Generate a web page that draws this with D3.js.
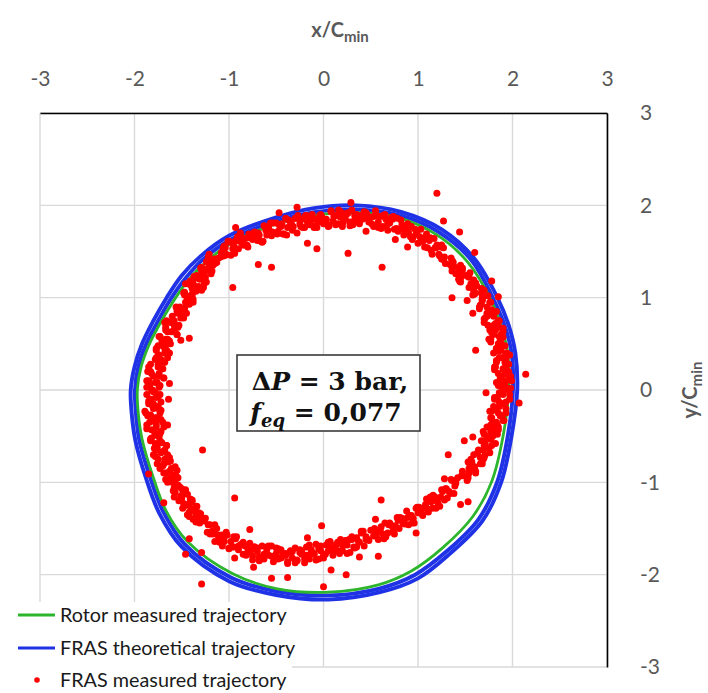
<!DOCTYPE html>
<html>
<head>
<meta charset="utf-8">
<script src="https://cdn.jsdelivr.net/npm/d3@7"></script>
<style>
  body { margin: 0; background: #fff; }
  svg { display: block; }
</style>
</head>
<body>
<svg id="chart" width="708" height="693"></svg>
<script>
// Axis ticks (both axes, in units of C_min)
const axisTicks = [-3, -2, -1, 0, 1, 2, 3];

// Series names for the legend
const seriesNames = ["Rotor measured trajectory", "FRAS theoretical trajectory", "FRAS measured trajectory"];

// Rotor measured orbit [x/Cmin, y/Cmin]
const rotorMeasured = [
  [0.35,1.92],[-0.1,1.89],[-0.5,1.80],[-0.96,1.60],[-1.24,1.39],[-1.43,1.19],[-1.59,0.96],[-1.73,0.72],
  [-1.85,0.48],[-1.93,0.25],[-1.97,0.0],[-1.96,-0.25],[-1.92,-0.53],[-1.81,-0.92],[-1.67,-1.3],[-1.44,-1.64],
  [-0.96,-1.99],[-0.5,-2.15],[0.05,-2.19],[0.58,-2.11],[0.93,-1.96],[1.26,-1.71],[1.58,-1.37],[1.78,-0.99],
  [1.9,-0.5],[1.96,0.0],[1.95,0.4],[1.88,0.69],[1.77,0.98],[1.53,1.38],[1.2,1.68],[0.78,1.87]
];

// FRAS theoretical orbit, two successive revolutions
const frasTheoreticalRev1 = [
  [0.35,2.0],[-0.1,1.97],[-0.5,1.87],[-1.0,1.67],[-1.3,1.45],[-1.5,1.24],[-1.66,1.0],[-1.8,0.75],
  [-1.92,0.5],[-2.0,0.25],[-2.04,0.0],[-2.03,-0.25],[-1.99,-0.55],[-1.88,-0.95],[-1.74,-1.33],[-1.5,-1.7],
  [-1.0,-2.07],[-0.5,-2.22],[0.05,-2.27],[0.6,-2.19],[1.0,-2.04],[1.33,-1.78],[1.68,-1.42],[1.88,-1.0],
  [1.99,-0.5],[2.05,0.0],[2.03,0.4],[1.96,0.7],[1.84,1.0],[1.6,1.42],[1.25,1.74],[0.82,1.93]
];
const frasTheoreticalRev2 = [
  [0.35,1.955],[-0.1,1.925],[-0.5,1.83],[-0.98,1.63],[-1.27,1.42],[-1.46,1.21],[-1.62,0.98],[-1.76,0.73],
  [-1.88,0.49],[-1.96,0.25],[-1.995,0.0],[-1.985,-0.25],[-1.95,-0.54],[-1.84,-0.93],[-1.7,-1.31],[-1.47,-1.67],
  [-0.98,-2.03],[-0.5,-2.18],[0.05,-2.225],[0.59,-2.15],[0.97,-2.0],[1.3,-1.75],[1.64,-1.4],[1.84,-0.99],
  [1.95,-0.5],[2.005,0.0],[1.99,0.4],[1.92,0.69],[1.8,0.98],[1.57,1.4],[1.22,1.71],[0.81,1.89]
];

// FRAS measured positions [x/Cmin, y/Cmin]
const frasMeasured = [
  [-0.50,1.81],[-0.48,1.72],[-0.45,1.77],[-0.43,1.69],[-0.40,1.86],[-0.38,1.76],[-0.35,1.82],[-0.33,1.73],[-0.30,1.86],[-0.28,1.70],
  [-0.25,1.80],[-0.23,1.85],[-0.20,1.76],[-0.18,1.89],[-0.15,1.79],[-0.13,1.85],[-0.10,1.76],[-0.08,1.85],[-0.05,1.82],[-0.03,1.90],
  [0.00,1.80],[0.03,1.85],[0.05,1.77],[0.08,1.94],[0.10,1.83],[0.13,1.89],[0.15,1.80],[0.18,1.93],[0.20,1.77],[0.23,1.86],
  [0.25,1.91],[0.28,1.82],[0.30,1.95],[0.33,1.84],[0.35,1.90],[0.38,1.80],[0.40,1.89],[0.43,1.86],[0.45,1.92],[0.48,1.82],
  [0.50,1.87],[0.53,1.77],[0.55,1.94],[0.58,1.82],[0.60,1.88],[0.63,1.77],[0.65,1.90],[0.68,1.73],[0.70,1.81],
  [0.73,1.85],[0.75,1.74],[0.78,1.86],[0.80,1.74],[0.83,1.79],[0.85,1.68],[0.88,1.75],[0.90,1.71],[0.93,1.77],[0.95,1.66],
  [0.98,1.69],[1.00,1.59],[1.03,1.74],[1.05,1.61],[1.08,1.65],[1.10,1.54],[1.13,1.65],[1.15,1.47],[1.18,1.54],[1.20,1.57],
  [1.23,1.45],[1.25,1.57],[1.28,1.44],
  [1.35,1.43],[1.27,1.41],[1.37,1.39],[1.36,1.37],[1.45,1.35],[1.36,1.33],[1.43,1.31],[1.36,1.29],[1.55,1.27],[1.45,1.25],
  [1.53,1.23],[1.45,1.21],[1.59,1.19],[1.45,1.17],[1.56,1.15],[1.62,1.13],[1.54,1.11],[1.68,1.09],[1.59,1.07],[1.67,1.05],
  [1.58,1.03],[1.69,1.01],
  [1.68,0.98],[1.76,0.95],[1.67,0.93],[1.73,0.90],[1.65,0.88],[1.83,0.85],[1.73,0.83],[1.80,0.80],[1.71,0.78],[1.85,0.75],
  [1.70,0.73],[1.80,0.70],[1.86,0.68],[1.76,0.65],[1.90,0.63],[1.80,0.60],[1.86,0.58],[1.77,0.55],[1.87,0.53],[1.85,0.50],
  [1.92,0.48],[1.83,0.45],[1.88,0.43],[1.80,0.40],[1.97,0.38],[1.86,0.35],[1.93,0.33],[1.83,0.30],[1.96,0.28],[1.81,0.25],
  [1.90,0.23],[1.95,0.20],[1.85,0.18],[1.98,0.15],[1.87,0.13],[1.93,0.10],[1.83,0.08],[1.92,0.05],[1.89,0.03],[1.96,0.00],
  [1.86,-0.03],[1.90,-0.05],[1.81,-0.08],[1.97,-0.10],[1.86,-0.13],[1.91,-0.15],[1.80,-0.18],[1.93,-0.20],[1.76,-0.23],[1.85,-0.25],
  [1.89,-0.28],[1.78,-0.30],[1.90,-0.33],[1.79,-0.35],[1.84,-0.38],[1.73,-0.40],[1.81,-0.43],[1.77,-0.45],[1.84,-0.48],[1.73,-0.50],
  [1.77,-0.53],[1.67,-0.55],[1.82,-0.58],[1.70,-0.60],[1.75,-0.63],[1.64,-0.65],[1.76,-0.68],[1.59,-0.70],[1.66,-0.73],[1.69,-0.75],
  [1.57,-0.78],[1.68,-0.80],[1.55,-0.83],[1.59,-0.85],[1.47,-0.88],[1.54,-0.90],[1.48,-0.93],[1.53,-0.95],[1.40,-0.98],
  [1.40,-1.01],[1.38,-1.12],[1.35,-0.97],[1.33,-1.10],[1.30,-1.07],[1.28,-1.19],[1.25,-1.08],[1.23,-1.26],[1.20,-1.20],[1.18,-1.16],
  [1.15,-1.28],[1.13,-1.16],[1.10,-1.29],[1.08,-1.24],[1.05,-1.36],[1.03,-1.28],[1.00,-1.33],[0.98,-1.28],[0.95,-1.39],[0.93,-1.36],
  [0.90,-1.46],[0.88,-1.31],[0.85,-1.43],[0.83,-1.39],[0.80,-1.50],[0.78,-1.38],[0.75,-1.56],[0.73,-1.48],[0.70,-1.44],[0.68,-1.55],
  [0.65,-1.44],[0.63,-1.56],[0.60,-1.51],[0.58,-1.62],[0.55,-1.54],[0.53,-1.58],[0.50,-1.52],
  [0.48,-1.63],[0.45,-1.59],[0.43,-1.69],[0.40,-1.53],[0.38,-1.65],[0.35,-1.60],[0.33,-1.71],[0.30,-1.59],[0.28,-1.76],[0.25,-1.68],
  [0.23,-1.63],[0.20,-1.74],[0.18,-1.62],[0.15,-1.74],[0.13,-1.68],[0.10,-1.79],[0.08,-1.71],[0.05,-1.74],[0.03,-1.68],[0.00,-1.79],
  [-0.03,-1.74],[-0.05,-1.83],[-0.08,-1.67],[-0.10,-1.78],[-0.13,-1.73],[-0.15,-1.83],[-0.18,-1.70],[-0.20,-1.87],[-0.23,-1.78],[-0.25,-1.73],
  [-0.28,-1.84],[-0.30,-1.71],[-0.33,-1.82],[-0.35,-1.76],[-0.38,-1.86],[-0.40,-1.77],[-0.43,-1.80],[-0.45,-1.73],[-0.48,-1.83],[-0.50,-1.77],
  [-0.53,-1.86],[-0.55,-1.69],[-0.58,-1.79],[-0.60,-1.73],[-0.63,-1.83],[-0.65,-1.69],[-0.68,-1.85],[-0.70,-1.75],[-0.73,-1.70],
  [-0.75,-1.80],[-0.78,-1.66],[-0.80,-1.76],[-0.83,-1.69],[-0.85,-1.78],[-0.88,-1.68],[-0.90,-1.69],[-0.93,-1.61],[-0.95,-1.70],[-0.98,-1.64],
  [-1.00,-1.72],[-1.03,-1.54],[-1.05,-1.64],[-1.08,-1.57],[-1.10,-1.65],[-1.13,-1.50],[-1.15,-1.64],[-1.18,-1.53],[-1.20,-1.46],[-1.23,-1.54],
  [-1.25,-1.39],
  [-1.31,-1.44],[-1.26,-1.42],[-1.38,-1.40],[-1.31,-1.38],[-1.35,-1.36],[-1.30,-1.34],[-1.42,-1.32],[-1.38,-1.30],[-1.49,-1.28],[-1.34,-1.26],
  [-1.46,-1.24],[-1.41,-1.22],[-1.53,-1.20],[-1.41,-1.18],[-1.58,-1.16],[-1.50,-1.14],[-1.47,-1.12],[-1.58,-1.10],[-1.46,-1.08],[-1.58,-1.06],
  [-1.54,-1.03],[-1.65,-1.00],[-1.57,-0.98],[-1.62,-0.95],[-1.56,-0.93],[-1.67,-0.90],[-1.63,-0.88],[-1.73,-0.85],[-1.57,-0.83],[-1.69,-0.80],
  [-1.64,-0.78],[-1.75,-0.75],[-1.63,-0.73],[-1.80,-0.70],[-1.72,-0.68],[-1.68,-0.65],[-1.79,-0.63],[-1.66,-0.60],[-1.78,-0.58],[-1.73,-0.55],
  [-1.83,-0.53],[-1.75,-0.50],[-1.78,-0.48],[-1.72,-0.45],[-1.82,-0.43],[-1.77,-0.40],[-1.87,-0.38],[-1.70,-0.35],[-1.81,-0.33],[-1.76,-0.30],
  [-1.86,-0.28],[-1.73,-0.25],[-1.89,-0.23],[-1.80,-0.20],[-1.75,-0.18],[-1.85,-0.15],[-1.72,-0.13],[-1.83,-0.10],[-1.77,-0.08],[-1.87,-0.05],
  [-1.78,-0.03],[-1.81,0.00],[-1.74,0.03],[-1.84,0.05],[-1.78,0.08],[-1.87,0.10],[-1.69,0.13],[-1.80,0.15],[-1.74,0.18],[-1.83,0.20],
  [-1.70,0.23],[-1.85,0.25],[-1.75,0.28],[-1.69,0.30],[-1.78,0.33],[-1.65,0.35],[-1.75,0.38],[-1.68,0.40],[-1.77,0.43],[-1.68,0.45],
  [-1.70,0.48],[-1.62,0.50],[-1.71,0.53],[-1.65,0.55],[-1.73,0.58],[-1.55,0.60],[-1.65,0.63],[-1.58,0.65],[-1.67,0.68],[-1.53,0.70],
  [-1.68,0.73],[-1.58,0.75],[-1.51,0.78],[-1.60,0.80],[-1.45,0.83],[-1.55,0.85],[-1.47,0.88],[-1.56,0.90],[-1.45,0.93],[-1.46,0.95],
  [-1.38,0.98],
  [-1.45,1.02],[-1.39,1.04],[-1.47,1.06],[-1.29,1.08],[-1.39,1.10],[-1.32,1.12],[-1.41,1.14],[-1.26,1.16],[-1.41,1.18],[-1.31,1.20],
  [-1.25,1.22],[-1.34,1.24],[-1.19,1.26],[-1.29,1.28],[-1.21,1.30],[-1.30,1.32],[-1.19,1.34],[-1.21,1.36],[-1.13,1.38],[-1.21,1.40],
  [-1.15,1.42],[-1.22,1.44],[-1.04,1.46],
  [-1.08,1.49],[-1.05,1.56],[-1.03,1.47],[-1.00,1.61],[-0.98,1.46],[-0.95,1.56],[-0.93,1.62],[-0.90,1.53],[-0.88,1.67],[-0.85,1.57],
  [-0.83,1.64],[-0.80,1.55],[-0.78,1.65],[-0.75,1.63],[-0.73,1.71],[-0.70,1.62],[-0.68,1.68],[-0.65,1.60],[-0.63,1.78],[-0.60,1.68],
  [-0.58,1.75],[-0.55,1.67],[-0.53,1.81],
  // second revolution of the band
  [-0.49,1.69],[-0.44,1.80],[-0.39,1.68],[-0.34,1.80],[-0.29,1.86],[-0.24,1.77],[-0.19,1.89],[-0.14,1.81],[-0.09,1.78],[-0.04,1.89],
  [0.01,1.84],[0.06,1.78],[0.11,1.88],[0.16,1.95],[0.21,1.82],[0.26,1.92],[0.31,1.79],[0.36,1.88],[0.41,1.85],[0.46,1.90],
  [0.51,1.80],[0.56,1.89],[0.61,1.75],[0.66,1.85],
  [0.72,1.87],[0.77,1.75],[0.82,1.84],[0.87,1.73],[0.92,1.66],[0.97,1.74],[1.02,1.66],[1.07,1.55],[1.12,1.62],[1.17,1.64],
  [1.22,1.47],[1.27,1.54],
  [1.25,1.42],[1.37,1.38],[1.38,1.34],[1.47,1.30],[1.40,1.26],[1.54,1.22],[1.44,1.18],[1.58,1.14],[1.67,1.10],[1.60,1.06],
  [1.74,1.02],
  [1.68,0.97],[1.66,0.92],[1.78,0.87],[1.75,0.82],[1.70,0.77],[1.82,0.72],[1.90,0.67],[1.78,0.62],[1.90,0.57],[1.77,0.52],
  [1.87,0.47],[1.85,0.42],[1.92,0.37],[1.83,0.32],[1.93,0.27],[1.81,0.22],[1.92,0.17],[1.97,0.12],[1.87,0.07],[1.98,0.02],
  [1.89,-0.03],[1.84,-0.08],[1.93,-0.13],[1.86,-0.18],[1.78,-0.23],[1.87,-0.28],[1.91,-0.33],[1.77,-0.38],[1.85,-0.43],[1.70,-0.48],
  [1.77,-0.53],[1.71,-0.58],[1.75,-0.63],[1.63,-0.68],[1.70,-0.73],[1.53,-0.78],[1.60,-0.83],[1.61,-0.88],[1.46,-0.93],[1.52,-0.98],
  [1.39,-1.04],[1.34,-1.12],[1.29,-1.07],[1.24,-1.16],[1.19,-1.28],[1.14,-1.21],[1.09,-1.18],[1.04,-1.34],[0.99,-1.27],[0.94,-1.44],
  [0.89,-1.38],[0.84,-1.44],[0.79,-1.41],[0.74,-1.53],[0.69,-1.46],[0.64,-1.61],[0.59,-1.53],[0.54,-1.50],
  [0.47,-1.62],[0.42,-1.53],[0.37,-1.64],[0.32,-1.70],[0.27,-1.62],[0.22,-1.68],[0.17,-1.77],[0.12,-1.69],[0.07,-1.64],[0.02,-1.78],
  [-0.03,-1.69],[-0.08,-1.84],[-0.13,-1.76],[-0.18,-1.79],[-0.23,-1.74],[-0.28,-1.85],[-0.33,-1.75],[-0.38,-1.88],[-0.43,-1.77],[-0.48,-1.72],
  [-0.53,-1.81],[-0.58,-1.69],[-0.63,-1.78],[-0.68,-1.81],[-0.73,-1.70],
  [-0.77,-1.74],[-0.82,-1.79],[-0.87,-1.67],[-0.92,-1.59],[-0.97,-1.70],[-1.02,-1.57],[-1.07,-1.69],[-1.12,-1.57],[-1.17,-1.56],[-1.22,-1.46],
  [-1.35,-1.43],[-1.28,-1.39],[-1.44,-1.35],[-1.37,-1.31],[-1.35,-1.27],[-1.48,-1.23],[-1.39,-1.19],[-1.51,-1.15],[-1.57,-1.11],[-1.50,-1.07],
  [-1.57,-1.02],[-1.67,-0.97],[-1.59,-0.92],[-1.55,-0.87],[-1.70,-0.82],[-1.62,-0.77],[-1.78,-0.72],[-1.71,-0.67],[-1.76,-0.62],[-1.71,-0.57],
  [-1.82,-0.52],[-1.73,-0.47],[-1.87,-0.42],[-1.77,-0.37],[-1.72,-0.32],[-1.83,-0.27],[-1.72,-0.22],[-1.81,-0.17],[-1.85,-0.12],[-1.75,-0.07],
  [-1.80,-0.02],[-1.87,0.03],[-1.76,0.08],[-1.69,0.13],[-1.82,0.18],[-1.71,0.23],[-1.83,0.28],[-1.72,0.33],[-1.74,0.38],[-1.66,0.43],
  [-1.75,0.48],[-1.63,0.53],[-1.74,0.58],[-1.61,0.63],[-1.54,0.68],[-1.62,0.73],[-1.48,0.78],[-1.54,0.83],[-1.55,0.88],[-1.42,0.93],
  [-1.44,0.98],
  [-1.47,1.03],[-1.35,1.07],[-1.27,1.11],[-1.38,1.15],[-1.26,1.19],[-1.37,1.23],[-1.26,1.27],[-1.26,1.31],[-1.17,1.35],[-1.24,1.39],
  [-1.11,1.43],[-1.21,1.47],
  [-1.06,1.54],[-1.01,1.61],[-0.96,1.53],[-0.91,1.66],[-0.86,1.59],[-0.81,1.57],[-0.76,1.69],[-0.71,1.66],[-0.66,1.61],[-0.61,1.73],
  [-0.56,1.81],
  // third revolution of the band
  [-0.47,1.79],[-0.42,1.69],[-0.37,1.84],[-0.32,1.77],[-0.27,1.89],[-0.22,1.76],[-0.17,1.82],[-0.12,1.90],[-0.07,1.76],[-0.02,1.88],
  [0.03,1.81],[0.08,1.93],[0.13,1.79],[0.18,1.87],[0.23,1.91],[0.28,1.78],[0.33,1.89],[0.38,1.83],[0.43,1.93],[0.48,1.85],
  [0.53,1.88],[0.58,1.76],[0.63,1.89],[0.68,1.80],
  [0.74,1.88],[0.79,1.72],[0.84,1.75],[0.89,1.80],[0.94,1.63],[0.99,1.72],[1.04,1.61],[1.09,1.69],[1.14,1.51],[1.19,1.54],
  [1.24,1.55],[1.29,1.37],
  [1.36,1.40],[1.34,1.36],[1.47,1.32],[1.44,1.28],[1.51,1.24],[1.43,1.20],[1.61,1.16],[1.56,1.12],[1.70,1.08],[1.60,1.04],
  [1.68,1.00],
  [1.77,0.95],[1.65,0.90],[1.78,0.85],[1.73,0.80],[1.86,0.75],[1.74,0.70],[1.82,0.65],[1.88,0.60],[1.75,0.55],[1.88,0.50],
  [1.83,0.45],[1.94,0.40],[1.87,0.35],[1.92,0.30],[1.82,0.25],[1.96,0.20],[1.88,0.15],[1.99,0.10],[1.85,0.05],[1.90,0.00],
  [1.97,-0.05],[1.81,-0.10],[1.91,-0.15],[1.83,-0.20],[1.93,-0.25],[1.77,-0.30],[1.83,-0.35],[1.85,-0.40],[1.69,-0.45],[1.79,-0.50],
  [1.71,-0.55],[1.78,-0.60],[1.69,-0.65],[1.71,-0.70],[1.56,-0.75],[1.66,-0.80],[1.54,-0.85],[1.61,-0.90],[1.42,-0.95],
  [1.36,-0.98],[1.31,-1.17],[1.26,-1.10],[1.21,-1.22],[1.16,-1.14],[1.11,-1.32],[1.06,-1.28],[1.01,-1.27],[0.96,-1.44],[0.91,-1.36],
  [0.86,-1.45],[0.81,-1.38],[0.76,-1.47],[0.71,-1.46],[0.66,-1.59],[0.61,-1.48],[0.56,-1.58],
  [0.45,-1.62],[0.40,-1.55],[0.35,-1.70],[0.30,-1.62],[0.25,-1.77],[0.20,-1.68],[0.15,-1.65],[0.10,-1.76],[0.05,-1.65],[0.00,-1.82],
  [-0.05,-1.72],[-0.10,-1.77],[-0.15,-1.68],[-0.20,-1.83],[-0.25,-1.76],[-0.30,-1.87],[-0.35,-1.74],[-0.40,-1.79],[-0.45,-1.82],[-0.50,-1.71],
  [-0.55,-1.80],[-0.60,-1.70],[-0.65,-1.82],[-0.70,-1.71],[-0.75,-1.84],
  [-0.80,-1.72],[-0.85,-1.65],[-0.90,-1.73],[-0.95,-1.59],[-1.00,-1.71],[-1.05,-1.59],[-1.10,-1.60],[-1.15,-1.46],[-1.20,-1.56],
  [-1.28,-1.41],[-1.42,-1.37],[-1.32,-1.33],[-1.40,-1.29],[-1.46,-1.25],[-1.39,-1.21],[-1.50,-1.17],[-1.44,-1.13],[-1.59,-1.09],[-1.52,-1.05],
  [-1.60,-1.00],[-1.54,-0.95],[-1.69,-0.90],[-1.61,-0.85],[-1.76,-0.80],[-1.68,-0.75],[-1.65,-0.70],[-1.77,-0.65],[-1.66,-0.60],[-1.83,-0.55],
  [-1.74,-0.50],[-1.79,-0.45],[-1.69,-0.40],[-1.84,-0.35],[-1.78,-0.30],[-1.88,-0.25],[-1.75,-0.20],[-1.80,-0.15],[-1.83,-0.10],[-1.73,-0.05],
  [-1.82,0.00],[-1.73,0.05],[-1.85,0.10],[-1.74,0.15],[-1.86,0.20],[-1.75,0.25],[-1.68,0.30],[-1.77,0.35],[-1.63,0.40],[-1.77,0.45],
  [-1.65,0.50],[-1.67,0.55],[-1.55,0.60],[-1.67,0.65],[-1.58,0.70],[-1.66,0.75],[-1.50,0.80],[-1.52,0.85],[-1.52,0.90],[-1.38,0.95],
  [-1.39,1.01],[-1.48,1.05],[-1.32,1.09],[-1.37,1.13],[-1.24,1.17],[-1.36,1.21],[-1.28,1.25],[-1.18,1.29],[-1.29,1.33],[-1.15,1.37],
  [-1.20,1.41],[-1.06,1.45],
  [-1.09,1.44],[-1.04,1.54],[-0.99,1.60],[-0.94,1.48],[-0.89,1.61],[-0.84,1.57],[-0.79,1.69],[-0.74,1.64],[-0.69,1.70],[-0.64,1.61],
  [-0.59,1.77],[-0.54,1.71],
  // scattered readings away from the main band
  [1.20,2.13],[0.29,2.03],[-0.28,1.98],[-0.47,1.92],[-0.93,1.76],[-0.88,1.70],[-1.46,1.15],[-0.96,1.11],[-0.55,1.33],[-0.69,1.36],
  [-0.17,1.59],[-0.07,1.53],[0.26,1.48],[0.62,1.33],[0.45,1.72],[0.76,1.63],[0.89,1.55],[1.27,1.83],[1.44,1.71],[1.60,1.49],
  [1.36,1.00],[1.52,0.97],[1.78,1.18],[1.85,1.01],
  [-0.94,-1.17],[-0.02,-1.47],[0.61,-1.19],[-1.46,-1.78],[-1.29,-2.10],[-1.29,-1.76],[-1.42,-1.61],[-1.69,-1.22],[-1.85,-0.91],[-0.94,-1.82],
  [-0.74,-1.92],[-0.55,-2.04],[-0.38,-2.03],[0.00,-2.13],[0.08,-1.95],[0.24,-2.00],[0.38,-1.81],[0.58,-1.80],[1.45,-1.24],[1.53,-1.21],
  [1.32,-0.70],[1.28,-0.96],[0.98,-1.55],[0.55,-1.40],[-0.17,-1.60],[-0.78,-1.51],[-1.28,-0.65],
  [-1.51,0.54],[-1.42,0.56],[-1.63,0.07],[-1.64,-0.10],[-1.65,-0.38],[1.58,0.83],[1.61,0.43],[2.14,0.17],[2.07,-0.14],
  [1.72,-0.03],[1.49,-0.55],[1.58,-0.51]
];

const colors = { rotor: "#2db52d", theory: "#1f32e6", measured: "#ff0000" };
const plot = { left: 40, right: 607, top: 113, bottom: 667 };

const x = d3.scaleLinear().domain([-3, 3]).range([plot.left, plot.right]);
const y = d3.scaleLinear().domain([-3, 3]).range([plot.bottom, plot.top]);

const svg = d3.select("#chart");
const FONT = "Lato, 'Open Sans', sans-serif";

// Gridlines
const grid = svg.append("g").attr("stroke", "#d9d9d9").attr("stroke-width", 1.4);
grid.selectAll("line.v").data(axisTicks).join("line").attr("class", "v")
  .attr("x1", d => x(d)).attr("x2", d => x(d)).attr("y1", plot.top).attr("y2", plot.bottom);
grid.selectAll("line.h").data(axisTicks).join("line").attr("class", "h")
  .attr("y1", d => y(d)).attr("y2", d => y(d)).attr("x1", plot.left).attr("x2", plot.right);

// Orbits
const orbit = d3.line().x(d => x(d[0])).y(d => y(d[1])).curve(d3.curveCatmullRomClosed.alpha(0.5));
const orbits = svg.append("g").attr("fill", "none");
[frasTheoreticalRev1, frasTheoreticalRev2].forEach(rev => {
  orbits.append("path").attr("d", orbit(rev)).attr("stroke", colors.theory).attr("stroke-width", 3.9);
});
orbits.append("path").attr("d", orbit(rotorMeasured)).attr("stroke", colors.rotor).attr("stroke-width", 2.8);

// Measured FRAS positions
svg.append("g").attr("fill", colors.measured)
  .selectAll("circle").data(frasMeasured).join("circle")
  .attr("cx", d => x(d[0])).attr("cy", d => y(d[1])).attr("r", 3.5);

// Axes: x on top, y on the right
const fmt = d => String(d);
const xAxis = svg.append("g").attr("transform", `translate(0,${plot.top})`)
  .call(d3.axisTop(x).tickValues(axisTicks).tickSize(0).tickSizeOuter(0).tickPadding(27).tickFormat(fmt));
const yAxis = svg.append("g").attr("transform", `translate(${plot.right},0)`)
  .call(d3.axisRight(y).tickValues(axisTicks).tickSize(0).tickSizeOuter(0).tickPadding(33).tickFormat(fmt));
[xAxis, yAxis].forEach(a => {
  a.select(".domain").attr("stroke", "#000").attr("stroke-width", 1.6);
  a.selectAll("text").attr("font-family", FONT).attr("font-size", 21).attr("fill", "#595959");
});

// Axis titles
const xTitle = svg.append("text").attr("x", 340).attr("y", 37).attr("text-anchor", "middle")
  .attr("font-family", FONT).attr("font-weight", "bold").attr("font-size", 20).attr("fill", "#595959");
xTitle.append("tspan").text("x/C");
xTitle.append("tspan").attr("font-size", 15).attr("dy", 5).text("min");

const yTitle = svg.append("text").attr("transform", "translate(697,390) rotate(-90)").attr("text-anchor", "middle")
  .attr("font-family", FONT).attr("font-weight", "bold").attr("font-size", 20).attr("fill", "#595959");
yTitle.append("tspan").text("y/C");
yTitle.append("tspan").attr("font-size", 15).attr("dy", 5).text("min");

// Operating-point annotation
svg.append("rect").attr("x", 237).attr("y", 355).attr("width", 183).attr("height", 76)
  .attr("fill", "#fff").attr("stroke", "#3a3a3a").attr("stroke-width", 1.6);
const SERIF = "'DejaVu Serif', 'Liberation Serif', serif";
const l1 = svg.append("text").attr("x", 330).attr("y", 390).attr("text-anchor", "middle")
  .attr("font-family", SERIF).attr("font-weight", "bold").attr("font-size", 25).attr("fill", "#111");
l1.append("tspan").text("\u0394");
l1.append("tspan").attr("font-style", "italic").text("P");
l1.append("tspan").text(" = 3 bar,");
const l2 = svg.append("text").attr("x", 326).attr("y", 421).attr("text-anchor", "middle")
  .attr("font-family", SERIF).attr("font-weight", "bold").attr("font-size", 25).attr("fill", "#111");
l2.append("tspan").attr("font-style", "italic").text("f");
l2.append("tspan").attr("font-style", "italic").attr("font-size", 18).attr("dy", 6).text("eq");
l2.append("tspan").attr("dy", -6).text(" = 0,077");

// Legend
const legend = svg.append("g");
legend.append("rect").attr("x", 0).attr("y", 602).attr("width", 292).attr("height", 91).attr("fill", "#fff");
const rows = [615, 648, 680];
legend.append("line").attr("x1", 18).attr("x2", 55).attr("y1", rows[0]).attr("y2", rows[0])
  .attr("stroke", colors.rotor).attr("stroke-width", 3);
legend.append("line").attr("x1", 18).attr("x2", 55).attr("y1", rows[1]).attr("y2", rows[1])
  .attr("stroke", colors.theory).attr("stroke-width", 3);
legend.append("circle").attr("cx", 37).attr("cy", rows[2]).attr("r", 2.8).attr("fill", colors.measured);
legend.selectAll("text.item").data(seriesNames).join("text").attr("class", "item")
  .attr("x", 60).attr("y", (d, i) => rows[i]).attr("dy", "0.35em")
  .attr("font-family", FONT).attr("font-size", 19.8).attr("fill", "#1a1a1a").text(d => d);
</script>
</body>
</html>
